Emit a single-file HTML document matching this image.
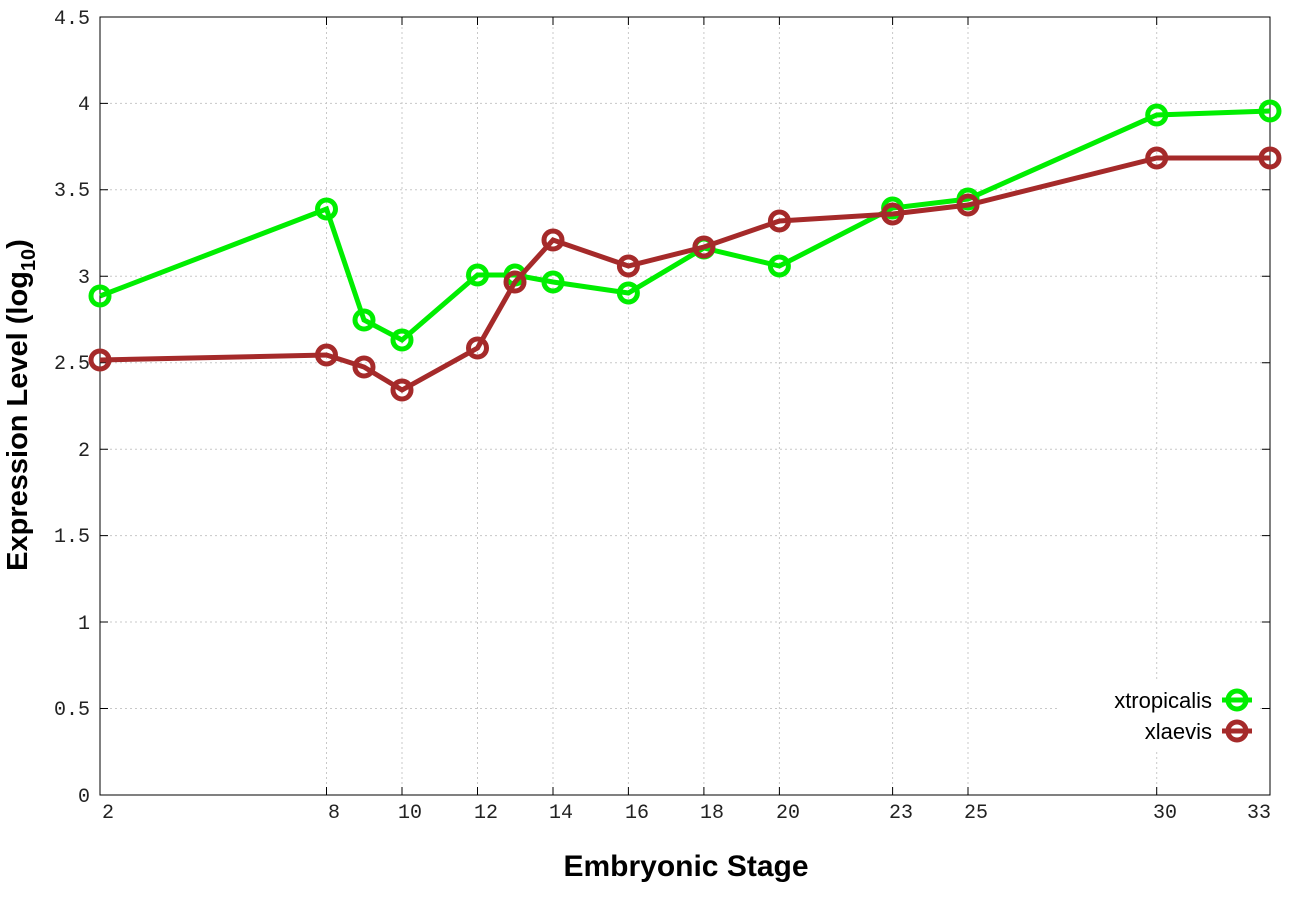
<!DOCTYPE html>
<html><head><style>body{margin:0;background:#fff}</style></head><body>
<svg width="1296" height="907" xmlns="http://www.w3.org/2000/svg" style="display:block">
<g stroke="#c8c8c8" stroke-width="1" stroke-dasharray="2,3">
<line x1="100" x2="1270" y1="708.5" y2="708.5"/><line x1="100" x2="1270" y1="622" y2="622"/><line x1="100" x2="1270" y1="535.6" y2="535.6"/><line x1="100" x2="1270" y1="449.2" y2="449.2"/><line x1="100" x2="1270" y1="362.7" y2="362.7"/><line x1="100" x2="1270" y1="276.3" y2="276.3"/><line x1="100" x2="1270" y1="189.8" y2="189.8"/><line x1="100" x2="1270" y1="103.4" y2="103.4"/>
<line x1="326.5" x2="326.5" y1="17" y2="795"/><line x1="402" x2="402" y1="17" y2="795"/><line x1="477.5" x2="477.5" y1="17" y2="795"/><line x1="553" x2="553" y1="17" y2="795"/><line x1="628.4" x2="628.4" y1="17" y2="795"/><line x1="703.9" x2="703.9" y1="17" y2="795"/><line x1="779.4" x2="779.4" y1="17" y2="795"/><line x1="892.6" x2="892.6" y1="17" y2="795"/><line x1="968" x2="968" y1="17" y2="795"/><line x1="1156.7" x2="1156.7" y1="17" y2="795"/>
</g>
<rect x="100" y="17" width="1170" height="778" fill="none" stroke="#000" stroke-width="1"/>
<g stroke="#000" stroke-width="1">
<path d="M100 708.5h8M100 622h8M100 535.6h8M100 449.2h8M100 362.7h8M100 276.3h8M100 189.8h8M100 103.4h8M1270 708.5h-8M1270 622h-8M1270 535.6h-8M1270 449.2h-8M1270 362.7h-8M1270 276.3h-8M1270 189.8h-8M1270 103.4h-8"/>
<path d="M326.5 795v-8M402 795v-8M477.5 795v-8M553 795v-8M628.4 795v-8M703.9 795v-8M779.4 795v-8M892.6 795v-8M968 795v-8M1156.7 795v-8M326.5 17v8M402 17v8M477.5 17v8M553 17v8M628.4 17v8M703.9 17v8M779.4 17v8M892.6 17v8M968 17v8M1156.7 17v8"/>
</g>
<g font-family="Liberation Mono, monospace" font-size="20" fill="#222" text-anchor="end">
<text x="90" y="802">0</text><text x="90" y="715">0.5</text><text x="90" y="629">1</text><text x="90" y="542">1.5</text><text x="90" y="456">2</text><text x="90" y="369">2.5</text><text x="90" y="283">3</text><text x="90" y="196">3.5</text><text x="90" y="110">4</text><text x="90" y="24">4.5</text>
</g>
<g font-family="Liberation Mono, monospace" font-size="20" fill="#222" text-anchor="middle">
<text x="108" y="818">2</text><text x="334" y="818">8</text><text x="410" y="818">10</text><text x="486" y="818">12</text><text x="561" y="818">14</text><text x="637" y="818">16</text><text x="712" y="818">18</text><text x="788" y="818">20</text><text x="901" y="818">23</text><text x="976" y="818">25</text><text x="1165" y="818">30</text><text x="1259" y="818">33</text>
</g>
<text x="686" y="876" font-family="Liberation Sans, sans-serif" font-weight="bold" font-size="30" text-anchor="middle">Embryonic Stage</text>
<text transform="translate(27,405) rotate(-90)" font-family="Liberation Sans, sans-serif" font-weight="bold" font-size="29" text-anchor="middle">Expression Level (log<tspan font-size="20" dy="8">10</tspan><tspan dy="-8">)</tspan></text>
<g fill="none" stroke-width="5">
<polyline stroke="#00ee00" points="100,296 326.5,209 364,320 402,340 477.5,275 515,275 553,282 628.4,293 703.9,248 779.4,266 892.6,208 968,199 1156.7,115 1270,111"/>
<g stroke="#00ee00"><circle cx="100" cy="296" r="9"/><circle cx="326.5" cy="209" r="9"/><circle cx="364" cy="320" r="9"/><circle cx="402" cy="340" r="9"/><circle cx="477.5" cy="275" r="9"/><circle cx="515" cy="275" r="9"/><circle cx="553" cy="282" r="9"/><circle cx="628.4" cy="293" r="9"/><circle cx="703.9" cy="248" r="9"/><circle cx="779.4" cy="266" r="9"/><circle cx="892.6" cy="208" r="9"/><circle cx="968" cy="199" r="9"/><circle cx="1156.7" cy="115" r="9"/><circle cx="1270" cy="111" r="9"/></g>
<polyline stroke="#a52a2a" points="100,360 326.5,355 364,367 402,390 477.5,348 515,282 553,240 628.4,266 703.9,247 779.4,221 892.6,214 968,205 1156.7,158 1270,158"/>
<g stroke="#a52a2a"><circle cx="100" cy="360" r="9"/><circle cx="326.5" cy="355" r="9"/><circle cx="364" cy="367" r="9"/><circle cx="402" cy="390" r="9"/><circle cx="477.5" cy="348" r="9"/><circle cx="515" cy="282" r="9"/><circle cx="553" cy="240" r="9"/><circle cx="628.4" cy="266" r="9"/><circle cx="703.9" cy="247" r="9"/><circle cx="779.4" cy="221" r="9"/><circle cx="892.6" cy="214" r="9"/><circle cx="968" cy="205" r="9"/><circle cx="1156.7" cy="158" r="9"/><circle cx="1270" cy="158" r="9"/></g>
</g>
<rect x="1060" y="680" width="200" height="70" fill="#fff"/>
<g font-family="Liberation Sans, sans-serif" font-size="22" text-anchor="end">
<text x="1212" y="708">xtropicalis</text><text x="1212" y="739">xlaevis</text>
</g>
<g fill="none" stroke-width="5">
<line x1="1222" x2="1252" y1="700" y2="700" stroke="#00ee00"/><circle cx="1237" cy="700" r="9" stroke="#00ee00"/>
<line x1="1222" x2="1252" y1="731" y2="731" stroke="#a52a2a"/><circle cx="1237" cy="731" r="9" stroke="#a52a2a"/>
</g>
</svg>
</body></html>
